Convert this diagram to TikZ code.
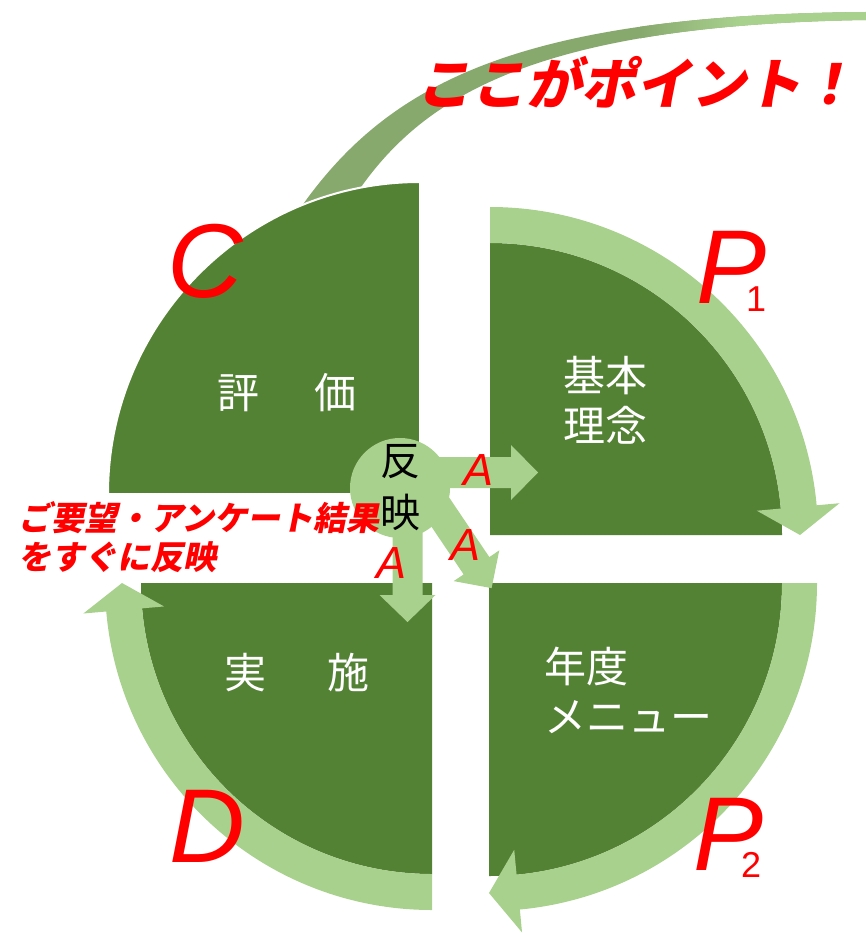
\documentclass[tikz,border=0pt]{standalone}
\usepackage{fontspec}
\newfontfamily\jpfont{Noto Sans CJK JP}
\newfontfamily\jpslant[FakeSlant=0.2]{Noto Sans CJK JP}
\newfontfamily\latinfont{Liberation Sans}
\definecolor{dkgreen}{HTML}{548235}
\definecolor{ltgreen}{HTML}{A9D18E}
\definecolor{swoosh}{HTML}{88A96E}
\definecolor{pdcared}{HTML}{FF0000}
\begin{document}
\begin{tikzpicture}
  [x=1pt,y=1pt,
   quad/.style={fill=dkgreen},
   ring/.style={fill=ltgreen},
   hub/.style={circle,fill=ltgreen,minimum size=100pt,inner sep=0,outer sep=0},
   hubtext/.style={align=center,inner sep=0,
                   font=\fontsize{40}{52}\selectfont\jpfont},
   title/.style={text=white,inner sep=0,
                 font=\fontsize{42}{50}\selectfont\jpfont},
   phase/.style={text=pdcared,inner sep=0,
                 font=\fontsize{105}{105}\selectfont\latinfont\itshape},
   phasesub/.style={text=pdcared,inner sep=0,
                    font=\fontsize{36}{36}\selectfont\latinfont},
   actlabel/.style={text=pdcared,inner sep=0,
                    font=\fontsize{45}{45}\selectfont\latinfont\itshape},
   note/.style={text=pdcared,align=left,inner sep=0,
                font=\fontsize{33}{39}\selectfont\jpslant\bfseries},
   point/.style={text=pdcared,inner sep=0,
                 font=\fontsize{55}{55}\selectfont\jpslant\bfseries}]
  \useasboundingbox (0,0) rectangle (866,-933);
  \fill[swoosh] (299,-210) .. controls (388,-82) and (520,-15) .. (866,-12)
    -- (866,-20) .. controls (540,-25) and (425,-95) .. (359,-190) -- cycle;
  \begin{scope}
    \clip (299,-210) .. controls (388,-82) and (520,-15) .. (866,-12)
      -- (866,-20) .. controls (540,-25) and (425,-95) .. (359,-190) -- cycle;
    \shade[left color=swoosh,right color=ltgreen] (640,0) rectangle (740,-120);
    \fill[ltgreen] (739,0) rectangle (866,-120);
  \end{scope}
  \filldraw[quad,draw=white,line width=2pt] (420,-494) -- (108,-494) arc (180:90:312) -- cycle;
  \fill[quad] (490,-535) -- (490,-243) arc (90:0:292) -- cycle;
  \fill[quad] (489,-583) -- (782,-583) arc (0:-90:293) -- cycle;
  \fill[quad] (432,-583) -- (432,-874) arc (270:180:291) -- cycle;
  \fill[ring,shift={(490,-535)}] (90:328) arc (90:5.2:328) -- (5.2:351) -- (0:310)
    -- (5.2:268) -- (5.2:292) arc (5.2:90:292) -- cycle;
  \fill[ring,shift={(489,-583)}] (0:328) arc (0:-84.6:328) -- (-84.6:351) -- (-90:310)
    -- (-84.6:268) -- (-84.6:293) arc (-84.6:0:293) -- cycle;
  \fill[ring,shift={(432,-583)}] (270:327) arc (270:185:327) -- (185:350) -- (180:310)
    -- (185:269) -- (185:291) arc (185:270:291) -- cycle;
  \node[hub] (hanei) at (400,-488) {};
  \fill[ring,shift={(400,-472.5)}] (0,-15.5) -- (111,-15.5) -- (111,-27.5) -- (138,0)
    -- (111,27.5) -- (111,15.5) -- (0,15.5) -- cycle;
  \fill[ring,shift={(407.5,-487)},rotate=-90] (0,-15) -- (108,-15) -- (108,-28) -- (135,0)
    -- (108,28) -- (108,15) -- (0,15) -- cycle;
  \fill[ring,shift={(420,-482)},rotate=-56] (0,-15.5) -- (101,-15.5) -- (101,-27.5) -- (128,0)
    -- (101,27.5) -- (101,15.5) -- (0,15.5) -- cycle;
  \node[hubtext] (haneitext) at (hanei) {反\\映};
  \node[title] (hyouka) at (287,-393) {評\hspace{56pt}価};
  \node[title,align=center] (rinen) at (605,-400) {基本\\理念};
  \node[title,align=left,anchor=west] (menu) at (544,-690) {年度\\メニュー};
  \node[title] (jisshi) at (297,-673) {実\hspace{62pt}施};
  \node[phase] (check) at (205,-261) {C};
  \node[phase] (plan1) at (732,-267) {P};
  \node[phasesub] (plan1sub) at (756,-299) {1};
  \node[phase] (plan2) at (729,-834) {P};
  \node[phasesub] (plan2sub) at (751,-865) {2};
  \node[phase] (do) at (207,-826) {D};
  \node[actlabel] (act1) at (478,-470) {A};
  \node[actlabel] (act2) at (465,-545) {A};
  \node[actlabel] (act3) at (392,-563) {A};
  \node[note,anchor=north west] (request) at (18,-501) {ご要望・アンケート結果\\をすぐに反映};
  \node[point] (pointtext) at (636,-82) {ここがポイント！};
\end{tikzpicture}
\end{document}
